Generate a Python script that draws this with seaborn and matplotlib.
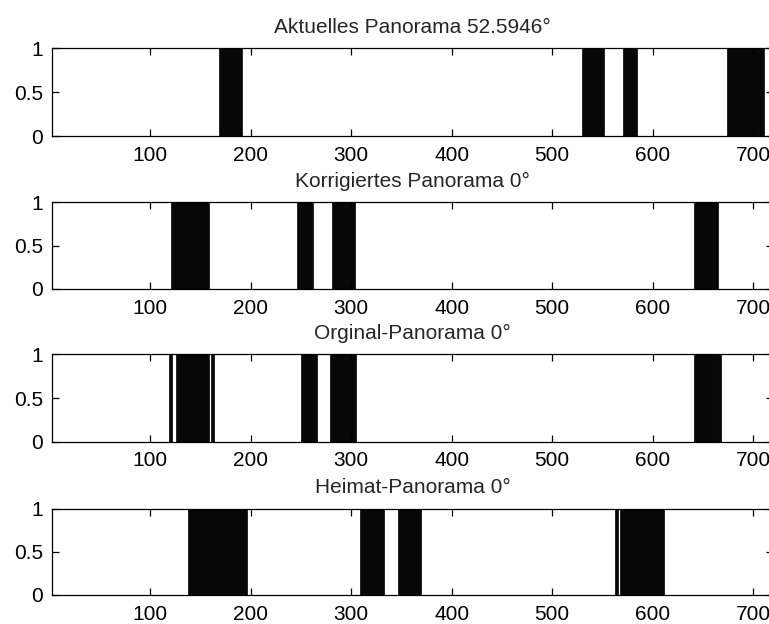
import numpy as np
import pandas as pd
import matplotlib
matplotlib.use("Agg")
import matplotlib.pyplot as plt
import seaborn as sns

# ---- data: panoramas are 720 samples wide, value 1 inside the listed runs ----
n_samples = 720
titles = [
    "Aktuelles Panorama 52.5946°",
    "Korrigiertes Panorama 0°",
    "Orginal-Panorama 0°",
    "Heimat-Panorama 0°",
]
aktuell_runs = [(169, 191), (530, 551), (571, 584), (674, 710)]
korrigiert_runs = [(121, 158), (247, 261), (281, 303), (642, 664)]
original_runs = [(119, 121), (126, 158), (161, 163), (251, 265), (279, 304), (642, 667)]
heimat_runs = [(138, 196), (309, 332), (347, 369), (563, 565), (568, 611)]
x_ticks = [100, 200, 300, 400, 500, 600, 700]
y_ticks = [0, 0.5, 1]
y_tick_labels = ["0", "0.5", "1"]

all_runs = [aktuell_runs, korrigiert_runs, original_runs, heimat_runs]


def to_signal(runs):
    x = np.arange(1, n_samples + 1)
    y = np.zeros(n_samples)
    for a, b in runs:
        y[(x >= a) & (x <= b)] = 1
    return pd.DataFrame({"x": x, "y": y})


sns.set_style("white")
plt.rcParams["font.family"] = ["Liberation Sans", "DejaVu Sans"]
plt.rcParams["font.size"] = 15

W, H = 769, 624
fig = plt.figure(figsize=(W / 100, H / 100), dpi=100)

# axes boxes in pixels (top, bottom); axes extend past right edge like the cropped reference
boxes = [(48.3, 136.0), (202.3, 289.0), (354.3, 441.7), (508.7, 595.0)]
left_px = 51.7
width_px = 721.6

for runs, title, (top, bot) in zip(all_runs, titles, boxes):
    ax = fig.add_axes([left_px / W, 1 - bot / H, width_px / W, (bot - top) / H])
    df = to_signal(runs)
    sns.barplot(data=df, x="x", y="y", native_scale=True, orient="x",
                width=1, color="#0a0a0a", saturation=1, edgecolor="black",
                linewidth=0.5, errorbar=None, ax=ax)
    ax.set_xlim(2, 720)
    ax.set_ylim(0, 1)
    ax.set_xticks(x_ticks)
    ax.set_xticklabels([str(t) for t in x_ticks])
    ax.set_yticks(y_ticks)
    ax.set_yticklabels(y_tick_labels)
    ax.set_xlabel("")
    ax.set_ylabel("")
    ax.set_title(title, fontsize=15, pad=11)
    ax.tick_params(direction="in", length=5, width=0.9, top=True, right=True,
                   bottom=True, left=True, labelsize=15, colors="black")
    ax.tick_params(axis="x", pad=7)
    ax.tick_params(axis="y", pad=6)
    for s in ax.spines.values():
        s.set_visible(True)
        s.set_color("black")
        s.set_linewidth(0.9)
    ax.set_facecolor("white")

fig.savefig("out.png", dpi=100, facecolor="white")
